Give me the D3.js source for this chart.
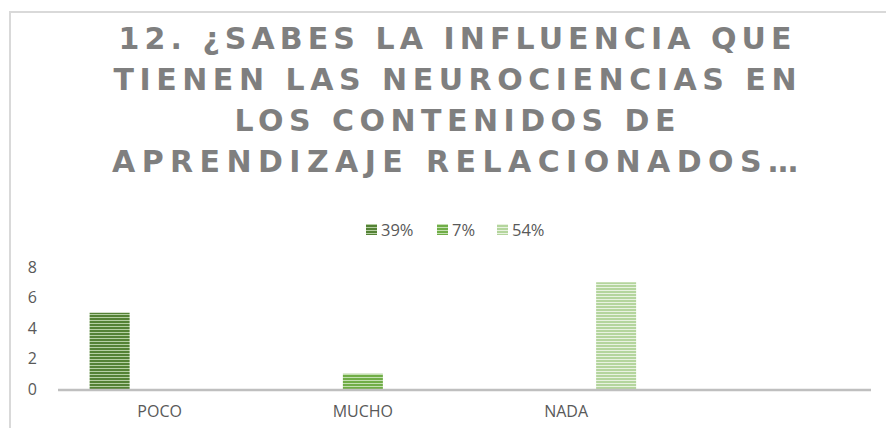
<!DOCTYPE html>
<html>
<meta charset="utf-8">
<head>
    <script src="https://d3js.org/d3.v7.min.js"></script>
</head>

<style>
  body { margin: 0; background: #fff; }
  svg text { font-family: "Open Sans", sans-serif; }
  svg .title { fill: #7f7f7f; font-family: "DejaVu Sans", sans-serif; font-weight: 700; font-size: 30px; text-anchor: middle; }
  svg .tick-label { fill: #595959; font-size: 16px; }
  svg .legend text { fill: #595959; font-size: 16.5px; }
</style>

<body>
    <script>
        // data
        var categories = ["POCO", "MUCHO", "NADA", ""];
        var seriesNames = ["39%", "7%", "54%"];
        var s39 = [5, 0, 0, 0];
        var s7 = [0, 1, 0, 0];
        var s54 = [0, 0, 7, 0];
        var yTicks = [0, 2, 4, 6, 8];
        var titleLines = ["12. ¿SABES LA INFLUENCIA QUE",
                          "TIENEN LAS NEUROCIENCIAS EN",
                          "LOS CONTENIDOS DE",
                          "APRENDIZAJE RELACIONADOS…"];

        var allSeries = [s39, s7, s54];
        var colors = [["#548235", "#b5cfa3"], ["#70ad47", "#c4e0b2"], ["#b4d59d", "#e8f2e0"]];

        var width = 886, height = 428;

        var svg = d3.select("body").append("svg")
            .attr("width", width)
            .attr("height", height);

        // stripe patterns
        var defs = svg.append("defs");
        colors.forEach(function(c, i) {
            var p = defs.append("pattern")
                .attr("id", "stripe" + i)
                .attr("patternUnits", "userSpaceOnUse")
                .attr("width", 8).attr("height", 3);
            p.append("rect").attr("width", 8).attr("height", 3).attr("fill", c[1]);
            p.append("rect").attr("width", 8).attr("height", 2).attr("fill", c[0]);
        });

        // chart border
        svg.append("rect")
            .attr("x", 10).attr("y", 12)
            .attr("width", 900).attr("height", 440)
            .attr("fill", "none")
            .attr("stroke", "#d9d9d9")
            .attr("stroke-width", 2);

        // title
        var titleWidths = [673, 683, 441, 686];
        svg.selectAll(".title")
            .data(titleLines)
            .enter().append("text")
            .attr("class", "title")
            .attr("x", 455)
            .attr("y", function(d, i) { return 48.5 + i * 41.3; })
            .attr("textLength", function(d, i) { return titleWidths[i]; })
            .attr("lengthAdjust", "spacing")
            .text(function(d) { return d; });

        // scales
        var x0 = d3.scaleBand().domain(categories).range([58, 871]);
        var bw = x0.bandwidth();
        var x1 = d3.scaleBand().domain(seriesNames)
            .range([(bw - 150) / 2, (bw + 150) / 2])
            .paddingInner(0.2).paddingOuter(0.1);
        var y = d3.scaleLinear().domain([0, 8]).range([389, 267]);

        // y tick labels
        svg.selectAll(".ytick")
            .data(yTicks)
            .enter().append("text")
            .attr("class", "tick-label")
            .attr("x", 37)
            .attr("y", function(d) { return y(d) + 5.5; })
            .attr("text-anchor", "end")
            .text(function(d) { return d; });

        // bars
        allSeries.forEach(function(vals, si) {
            svg.append("g").selectAll("rect")
                .data(vals.map(function(v, ci) { return { c: categories[ci], v: v }; })
                          .filter(function(d) { return d.v > 0; }))
                .enter().append("rect")
                .attr("x", function(d) { return x0(d.c) + x1(seriesNames[si]); })
                .attr("y", function(d) { return y(d.v); })
                .attr("width", x1.bandwidth())
                .attr("height", function(d) { return y(0) - y(d.v); })
                .attr("fill", "url(#stripe" + si + ")");
        });

        // x axis line
        svg.append("line")
            .attr("x1", 58).attr("x2", 871)
            .attr("y1", y(0) + 1).attr("y2", y(0) + 1)
            .attr("stroke", "#bfbfbf")
            .attr("stroke-width", 2.5);

        // x labels
        svg.selectAll(".xlab")
            .data(categories)
            .enter().append("text")
            .attr("class", "tick-label")
            .attr("x", function(d) { return x0(d) + bw / 2; })
            .attr("y", 417)
            .attr("text-anchor", "middle")
            .text(function(d) { return d; });

        // legend
        var legendX = [366, 437, 497];
        var legend = svg.append("g").attr("class", "legend");
        seriesNames.forEach(function(name, i) {
            legend.append("rect")
                .attr("x", legendX[i]).attr("y", 224)
                .attr("width", 11).attr("height", 11)
                .attr("fill", "url(#stripe" + i + ")");
            legend.append("text")
                .attr("x", legendX[i] + 15).attr("y", 236)
                .text(name);
        });
    </script>
</body>
</html>
